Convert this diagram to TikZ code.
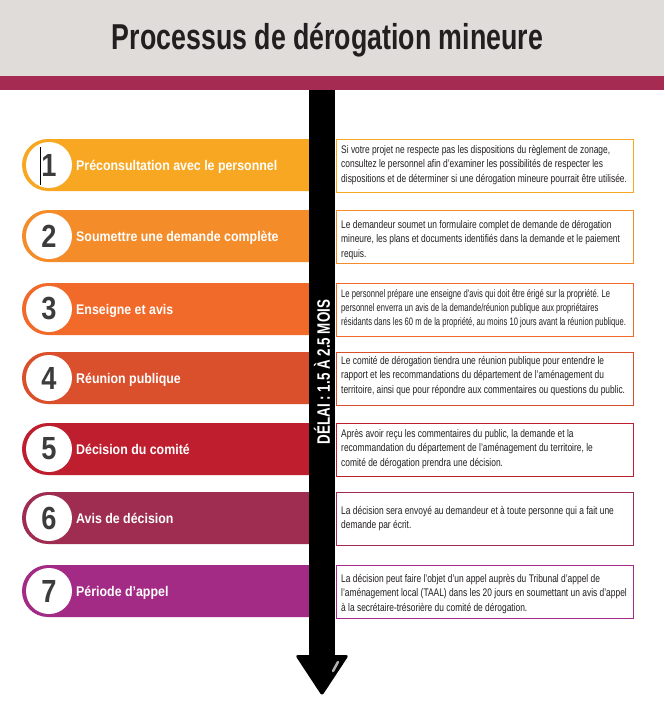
\documentclass[tikz,border=0pt]{standalone}
\usepackage{fontspec}
\usepackage{graphicx}
\setmainfont{Liberation Sans}
\newfontfamily\titlef[FakeStretch=0.743]{Liberation Sans}
\newfontfamily\labelf[FakeStretch=0.885]{Liberation Sans}
\newfontfamily\numf[FakeStretch=0.85]{Liberation Sans}
\newfontfamily\bodyf[FakeStretch=0.765]{Liberation Sans}
\newfontfamily\bodyfc[FakeStretch=0.705]{Liberation Sans}
\definecolor{hdrgray}{HTML}{DFDCDA}
\definecolor{hdrmaroon}{HTML}{A62B52}
\definecolor{ink}{HTML}{231F20}
\definecolor{numgray}{HTML}{3C3C3C}
\definecolor{cA}{HTML}{F8A722}
\definecolor{cB}{HTML}{F58C2A}
\definecolor{cC}{HTML}{F26A2A}
\definecolor{cD}{HTML}{DA4F2C}
\definecolor{cE}{HTML}{BE1E2D}
\definecolor{cF}{HTML}{9F2D52}
\definecolor{cG}{HTML}{A32A85}
\tikzset{
  numcircle/.style={circle, fill=white, minimum size=46pt, inner sep=0pt,
    text=numgray, font=\numf\bfseries\fontsize{32}{34}\selectfont},
  steplabel/.style={anchor=base west, inner sep=0pt, text=white,
    font=\labelf\bfseries\fontsize{14}{16}\selectfont},
  descbox/.style={draw=#1, line width=0.8pt, anchor=north west,
    minimum width=297pt, minimum height=53pt, inner sep=0pt},
  desctext/.style={anchor=north west, inner sep=0pt, align=left, text=ink,
    font=\bodyf\fontsize{11}{14.5}\selectfont},
  desctextc/.style={desctext, font=\bodyfc\fontsize{10.8}{14}\selectfont},
}
% #1 id, #2 colour, #3 pill top (px), #4 label, #5 text style, #6 text top (px), #7 text
\newcommand\mkstep[7]{%
  \fill[#2] (322,-#3) -- (48,-#3) arc[start angle=90, end angle=270, radius=26]
    -- (322,-#3-52) -- cycle;
  \node[numcircle] (n#1) at (49,-#3-26) {#1};
  \node[steplabel] (l#1) at (76,-#3-31) {#4};
  \node[descbox=#2] (b#1) at (336,-#3) {};
  \node[#5] (t#1) at (341,-#6) {#7};
}
\begin{document}
\begin{tikzpicture}[x=1pt,y=1pt]
\useasboundingbox (0,0) rectangle (664,-701);
\fill[white] (0,0) rectangle (664,-701);
% header
\fill[hdrgray] (0,0) rectangle (664,-76);
\fill[hdrmaroon] (0,-76) rectangle (664,-90);
\node[anchor=base, inner sep=0pt, text=ink,
  font=\titlef\bfseries\fontsize{36}{40}\selectfont] (title) at (327.5,-49)
  {Processus de dérogation mineure};
% steps
\mkstep{1}{cA}{139}{Préconsultation avec le personnel}{desctext}{145}{Si votre projet ne respecte pas les dispositions du règlement de zonage,\\consultez le personnel afin d’examiner les possibilités de respecter les\\dispositions et de déterminer si une dérogation mineure pourrait être utilisée.}
\mkstep{2}{cB}{210}{Soumettre une demande complète}{desctext}{220}{Le demandeur soumet un formulaire complet de demande de dérogation\\mineure, les plans et documents identifiés dans la demande et le paiement\\requis.}
\mkstep{3}{cC}{283}{Enseigne et avis}{desctextc}{289}{Le personnel prépare une enseigne d’avis qui doit être érigé sur la propriété. Le\\personnel enverra un avis de la demande/réunion publique aux propriétaires\\résidants dans les 60 m de la propriété, au moins 10 jours avant la réunion publique.}
\mkstep{4}{cD}{352}{Réunion publique}{desctext}{356}{Le comité de dérogation tiendra une réunion publique pour entendre le\\rapport et les recommandations du département de l’aménagement du\\territoire, ainsi que pour répondre aux commentaires ou questions du public.}
\mkstep{5}{cE}{423}{Décision du comité}{desctext}{429}{Après avoir reçu les commentaires du public, la demande et la\\recommandation du département de l’aménagement du territoire, le\\comité de dérogation prendra une décision.}
\mkstep{6}{cF}{492}{Avis de décision}{desctext}{506}{La décision sera envoyé au demandeur et à toute personne qui a fait une\\demande par écrit.}
\mkstep{7}{cG}{565}{Période d’appel}{desctext}{574}{La décision peut faire l’objet d’un appel auprès du Tribunal d’appel de\\l’aménagement local (TAAL) dans les 20 jours en soumettant un avis d’appel\\à la secrétaire-trésorière du comité de dérogation.}
% text cursor in circle 1
\draw[black, line width=0.8pt] (40,-147) -- (40,-185);
% timeline arrow
\fill[black] (309,-90) rectangle (335,-660);
\fill[black, rounded corners=3pt] (295,-655) -- (349,-655) -- (322,-696) -- cycle;
\draw[gray!60, line width=2.5pt, line cap=round] (338,-662) -- (333,-671);
\node[rotate=90, inner sep=0pt, text=white,
  font=\titlef\bfseries\fontsize{18}{20}\selectfont] (delai) at (322,-372)
  {DÉLAI : 1.5 À 2.5 MOIS};
\end{tikzpicture}
\end{document}
